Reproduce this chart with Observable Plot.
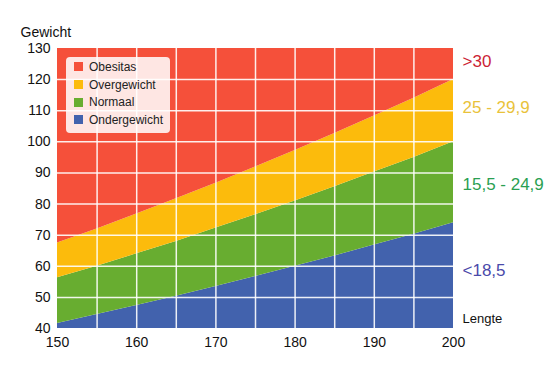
<!DOCTYPE html>
<html>
<head>
<meta charset="utf-8">
<script src="https://cdn.jsdelivr.net/npm/d3@7"></script>
<script src="https://cdn.jsdelivr.net/npm/@observablehq/plot@0.6"></script>
<style>
  html, body { margin: 0; padding: 0; background: #fff; }
  #wrap { position: relative; width: 551px; height: 376px; font-family: "Liberation Sans", Arial, sans-serif; }
  #legend { position: absolute; left: 66px; top: 57px; width: 104px; height: 76px; background: rgba(255,255,255,0.86); border-radius: 4px; box-sizing: border-box; padding-top: 1px; }
  .item { display: flex; align-items: center; height: 17.7px; font-size: 12px; color: #222; }
  .sw { width: 9px; height: 9px; margin-left: 8px; margin-right: 6px; }
</style>
</head>
<body>
<div id="wrap"></div>
<script>
// Data
const heights        = [150, 155, 160, 165, 170, 175, 180, 185, 190, 195, 200];
const underweightTop = [41.6, 44.5, 47.4, 50.4, 53.5, 56.7, 60, 63.3, 66.8, 70.3, 74];
const normalTop      = [56.3, 60, 64, 68, 72.3, 76.6, 81, 85.6, 90.3, 95, 100];
const overweightTop  = [67.5, 72, 76.8, 81.7, 86.7, 91.9, 97.2, 102.7, 108.3, 114, 120];
const weightMin = 40, weightMax = 130;
const xTicks = [150, 160, 170, 180, 190, 200];
const yTicks = [40, 50, 60, 70, 80, 90, 100, 110, 120, 130];
const categories = ["Obesitas", "Overgewicht", "Normaal", "Ondergewicht"];
const colors = ["#f5503a", "#fcbb0c", "#68ad30", "#4262ad"];
const rangeLabels = [">30", "25 - 29,9", "15,5 - 24,9", "<18,5"];
const rangeLabelY = [125.8, 111, 86.3, 58.6];
const rangeLabelColors = ["#cc1f36", "#e9c23a", "#2a9f52", "#4a4aaa"];

const rows = heights.map((h, i) => ({h, u: underweightTop[i], n: normalTop[i], o: overweightTop[i]}));

const chart = Plot.plot({
  width: 551,
  height: 376,
  marginLeft: 57,
  marginRight: 98,
  marginTop: 48,
  marginBottom: 48,
  style: {fontFamily: "'Liberation Sans', Arial, sans-serif", fontSize: "14px", color: "#111", background: "white"},
  x: {domain: [150, 200]},
  y: {domain: [weightMin, weightMax]},
  marks: [
    Plot.areaY(rows, {x: "h", y1: () => weightMin, y2: "u", fill: colors[3]}),
    Plot.areaY(rows, {x: "h", y1: "u", y2: "n", fill: colors[2]}),
    Plot.areaY(rows, {x: "h", y1: "n", y2: "o", fill: colors[1]}),
    Plot.areaY(rows, {x: "h", y1: "o", y2: () => weightMax, fill: colors[0]}),
    Plot.ruleX(d3.range(155, 200, 5), {stroke: "white", strokeWidth: 1.5, strokeOpacity: 0.9}),
    Plot.ruleY(d3.range(50, 130, 10), {stroke: "white", strokeWidth: 1.5, strokeOpacity: 0.9}),
    Plot.axisX({ticks: xTicks, tickSize: 0, tickPadding: 9, label: null, fontSize: 14, tickFormat: d => String(d)}),
    Plot.axisY({ticks: yTicks, tickSize: 0, tickPadding: 7, label: null, fontSize: 14, tickFormat: d => String(d)}),
    Plot.text(["Gewicht"], {frameAnchor: "top-left", textAnchor: "start", dx: -37, dy: -21, fontSize: 14, fill: "#111"}),
    Plot.text(["Lengte"], {frameAnchor: "bottom-right", textAnchor: "start", dx: 9, dy: -6, fontSize: 13, fill: "#111"}),
    ...rangeLabels.map((t, i) =>
      Plot.text([t], {x: () => 200, y: () => rangeLabelY[i], text: d => d, dx: 9, textAnchor: "start", fontSize: 17, fill: rangeLabelColors[i]})
    )
  ]
});

const wrap = document.getElementById("wrap");
wrap.appendChild(chart);
const legend = document.createElement("div");
legend.id = "legend";
categories.forEach((c, i) => {
  const item = document.createElement("div");
  item.className = "item";
  const sw = document.createElement("span");
  sw.className = "sw";
  sw.style.background = colors[i];
  item.appendChild(sw);
  item.appendChild(document.createTextNode(c));
  legend.appendChild(item);
});
wrap.appendChild(legend);
</script>
</body>
</html>
